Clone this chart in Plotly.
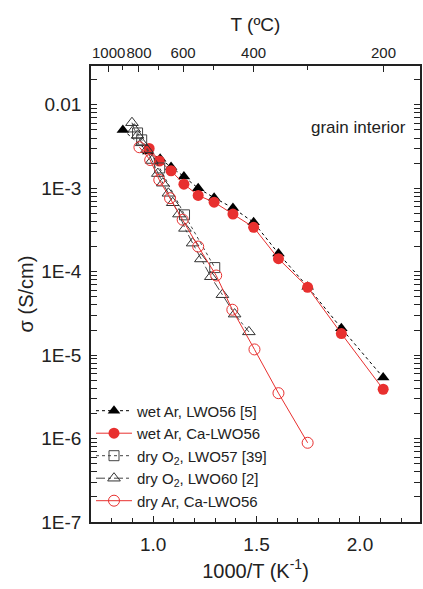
import plotly.graph_objects as go

# ---- data ----
wet_lwo56_x = [0.854, 0.977, 1.034, 1.087, 1.149, 1.218, 1.295, 1.386, 1.486, 1.606, 1.747, 1.910, 2.112]
wet_lwo56_y = [5.0e-3, 2.75e-3, 2.25e-3, 1.8e-3, 1.38e-3, 1.0e-3, 7.7e-4, 5.8e-4, 3.9e-4, 1.65e-4, 6.6e-5, 2.1e-5, 5.4e-6]

wet_ca_x = [0.981, 1.030, 1.087, 1.149, 1.218, 1.295, 1.386, 1.486, 1.606, 1.747, 1.910, 2.112]
wet_ca_y = [3.0e-3, 2.12e-3, 1.62e-3, 1.12e-3, 8.2e-4, 6.8e-4, 4.9e-4, 3.4e-4, 1.43e-4, 6.5e-5, 1.81e-5, 3.9e-6]

dry_lwo57_x = [0.925, 0.945, 1.032, 1.152, 1.298]
dry_lwo57_y = [4.6e-3, 3.8e-3, 1.75e-3, 4.8e-4, 1.12e-4]

dry_lwo60_x = [0.898, 0.909, 0.925, 0.945, 0.970, 0.994, 1.023, 1.047, 1.074, 1.095, 1.125, 1.154, 1.191, 1.231, 1.279, 1.335, 1.394, 1.463]
dry_lwo60_y = [6.1e-3, 5.1e-3, 4.3e-3, 3.5e-3, 2.9e-3, 2.15e-3, 1.5e-3, 1.15e-3, 8.7e-4, 6.7e-4, 4.9e-4, 3.3e-4, 2.2e-4, 1.42e-4, 8.7e-5, 5.3e-5, 3.1e-5, 1.9e-5]

dry_ca_x = [0.934, 0.986, 1.030, 1.082, 1.143, 1.218, 1.305, 1.383, 1.490, 1.606, 1.747]
dry_ca_y = [3.1e-3, 2.18e-3, 1.26e-3, 7.6e-4, 4.2e-4, 2.0e-4, 9.0e-5, 3.5e-5, 1.17e-5, 3.5e-6, 8.9e-7]

y_tick_vals = [1e-2, 1e-3, 1e-4, 1e-5, 1e-6, 1e-7]
y_tick_text = ["0.01", "1E-3", "1E-4", "1E-5", "1E-6", "1E-7"]

top_T_major = [1000, 800, 600, 400, 200]
top_T_minor = [900, 700, 500, 300]

FONT = "Liberation Sans, Arial, sans-serif"
RED = "#e8302f"

fig = go.Figure()

fig.add_trace(go.Scatter(
    x=wet_lwo56_x, y=wet_lwo56_y, name="wet Ar, LWO56 [5]", mode="lines+markers",
    line=dict(color="black", width=1, dash="dot"),
    marker=dict(symbol="triangle-up", size=11, color="black")))
fig.add_trace(go.Scatter(
    x=wet_ca_x, y=wet_ca_y, name="wet Ar, Ca-LWO56", mode="lines+markers",
    line=dict(color=RED, width=1),
    marker=dict(symbol="circle", size=11, color=RED)))
fig.add_trace(go.Scatter(
    x=dry_lwo57_x, y=dry_lwo57_y, name="dry O<sub>2</sub>, LWO57 [39]", mode="lines+markers",
    line=dict(color="#444", width=1, dash="dot"),
    marker=dict(symbol="square-open", size=10, color="#444", line=dict(width=1))))
fig.add_trace(go.Scatter(
    x=dry_lwo60_x, y=dry_lwo60_y, name="dry O<sub>2</sub>, LWO60 [2]", mode="lines+markers",
    line=dict(color="#444", width=1, dash="dashdot"),
    marker=dict(symbol="triangle-up-open", size=11, color="#333", line=dict(width=1))))
fig.add_trace(go.Scatter(
    x=dry_ca_x, y=dry_ca_y, name="dry Ar, Ca-LWO56", mode="lines+markers",
    line=dict(color=RED, width=1),
    marker=dict(symbol="circle-open", size=11, color=RED, line=dict(width=1))))

# invisible trace to activate top axis
top_pos = [1000.0 / (t + 273.15) for t in top_T_major]
fig.add_trace(go.Scatter(x=top_pos, y=[1e-7] * len(top_pos), xaxis="x2", mode="markers",
                         marker=dict(opacity=0), showlegend=False, hoverinfo="skip"))

x_range = [0.7, 2.29]

fig.update_layout(
    width=423, height=589,
    paper_bgcolor="white", plot_bgcolor="white",
    margin=dict(l=91, r=3, t=66, b=67, autoexpand=False),
    font=dict(family=FONT, size=14, color="#222"),
    showlegend=True,
    legend=dict(x=0.0, y=0.01, xanchor="left", yanchor="bottom",
                bgcolor="rgba(0,0,0,0)", font=dict(size=15, family=FONT),
                itemwidth=36, tracegroupgap=0),
    xaxis=dict(range=x_range, showgrid=False, zeroline=False, automargin=False,
               ticks="inside", ticklen=6, tickwidth=1, tickcolor="#222",
               showline=True, linecolor="#222", linewidth=1.5, mirror=True,
               tickvals=[1.0, 1.5, 2.0], ticktext=["1.0", "1.5", "2.0"],
               tickfont=dict(size=19), ticklabelstandoff=4,
               minor=dict(dtick=0.1, tick0=0.7, ticks="inside", ticklen=4, tickcolor="#222"),
               title=dict(text="1000/T (K<sup>-1</sup>)", font=dict(size=20), standoff=10)),
    xaxis2=dict(range=x_range, overlaying="x", side="top", showgrid=False, zeroline=False,
                automargin=False, tickangle=0,
                ticks="inside", ticklen=6, tickwidth=1, tickcolor="#222",
                tickvals=top_pos, ticktext=[str(t) for t in top_T_major],
                tickfont=dict(size=15), ticklabelstandoff=4,
                minor=dict(tickvals=[1000.0 / (t + 273.15) for t in top_T_minor],
                           ticks="inside", ticklen=4, tickcolor="#222"),
                title=dict(text="T (ºC)", font=dict(size=19), standoff=7)),
    yaxis=dict(type="log", range=[-7, -1.535], showgrid=False, zeroline=False, automargin=False,
               ticks="inside", ticklen=6, tickwidth=1, tickcolor="#222",
               showline=True, linecolor="#222", linewidth=1.5, mirror="allticks",
               tickvals=y_tick_vals, ticktext=y_tick_text, tickfont=dict(size=19),
               ticklabelstandoff=4,
               minor=dict(ticks="inside", ticklen=3, tickcolor="#222", dtick="D1"),
               title=dict(text="σ (S/cm)", font=dict(size=20), standoff=2)),
)

fig.add_annotation(x=0.9635, y=0.866, xref="paper", yref="paper", xanchor="right", yanchor="middle",
                   text="grain interior", showarrow=False, font=dict(size=17, family=FONT))

fig.write_html("out.html", post_script="document.body.style.margin='0';",
               config={"displayModeBar": False})
